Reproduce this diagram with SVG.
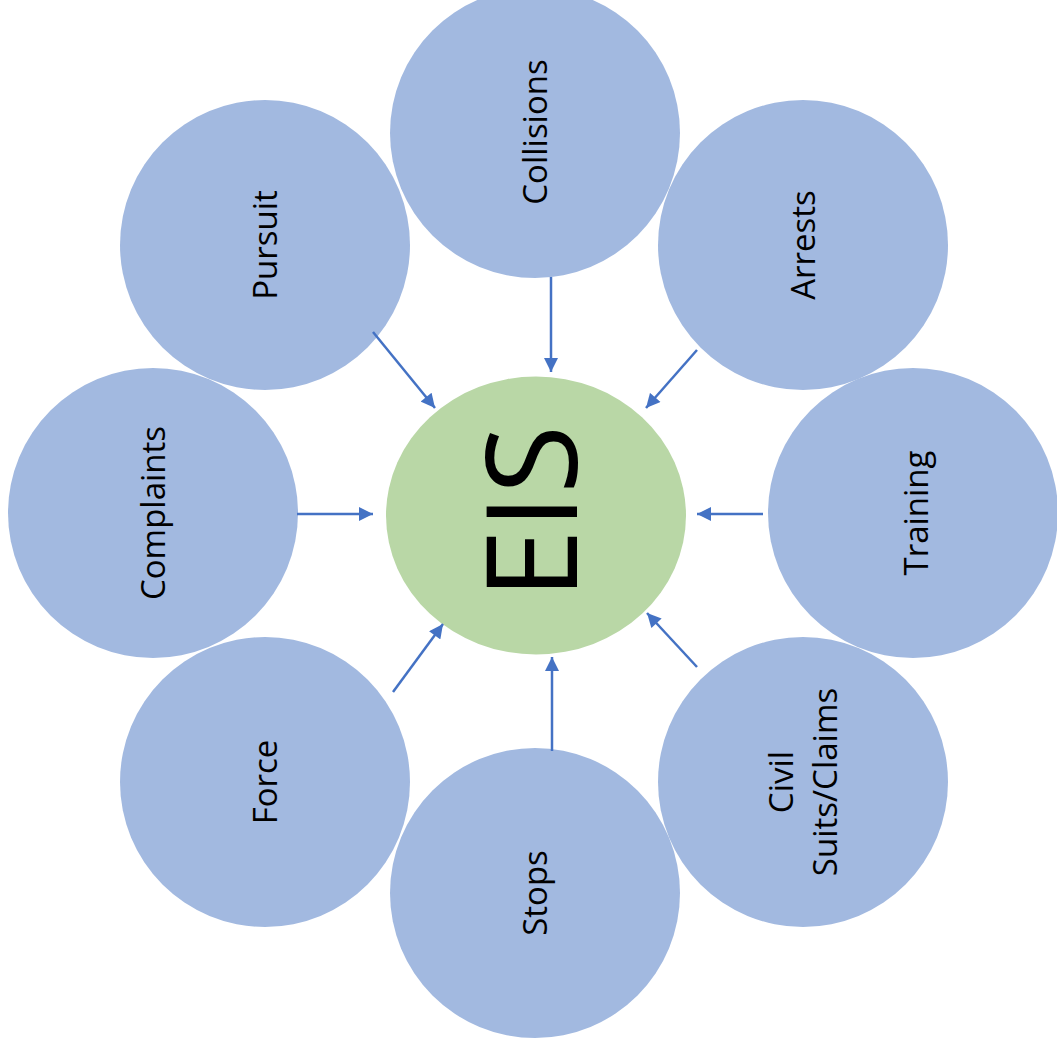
<svg xmlns="http://www.w3.org/2000/svg" width="1057" height="1056" viewBox="0 0 1057 1056">
  <style>
    .node { fill: #A2B9E0; }
    .hub { fill: #B9D7A6; }
    .label { font-family: "Open Sans", "Liberation Sans", sans-serif; font-size: 33px; fill: #000; text-anchor: middle; }
    .big { font-family: "Open Sans", "DejaVu Sans", sans-serif; font-size: 126px; fill: #000; text-anchor: middle; }
    .conn { stroke: #4472C4; stroke-width: 2.5; fill: none; marker-end: url(#head); }
  </style>
  <defs>
    <marker id="head" viewBox="0 0 10 10" refX="10" refY="5" markerUnits="userSpaceOnUse" markerWidth="15" markerHeight="14" orient="auto">
      <path d="M0,0 L10,5 L0,10 Z" fill="#4472C4"/>
    </marker>
  </defs>

  <rect width="1057" height="1056" fill="#fff"/>

  <g id="collisions">
    <circle class="node" cx="535" cy="133" r="145"/>
    <text class="label" transform="translate(535,132) rotate(-90)" y="12">Collisions</text>
  </g>
  <g id="pursuit">
    <circle class="node" cx="265" cy="245" r="145"/>
    <text class="label" transform="translate(265,245) rotate(-90)" y="12">Pursuit</text>
  </g>
  <g id="arrests">
    <circle class="node" cx="803" cy="245" r="145"/>
    <text class="label" transform="translate(803,245) rotate(-90)" y="12">Arrests</text>
  </g>
  <g id="complaints">
    <circle class="node" cx="153" cy="513" r="145"/>
    <text class="label" transform="translate(153,513) rotate(-90)" y="12">Complaints</text>
  </g>
  <g id="training">
    <circle class="node" cx="913" cy="513" r="145"/>
    <text class="label" transform="translate(916,513) rotate(-90)" y="12">Training</text>
  </g>
  <g id="force">
    <circle class="node" cx="265" cy="782" r="145"/>
    <text class="label" transform="translate(265,782) rotate(-90)" y="12">Force</text>
  </g>
  <g id="civil">
    <circle class="node" cx="803" cy="782" r="145"/>
    <text class="label" transform="translate(803,782) rotate(-90)" y="-10">Civil</text>
    <text class="label" transform="translate(803,782) rotate(-90)" y="34">Suits/Claims</text>
  </g>
  <g id="stops">
    <circle class="node" cx="535" cy="893" r="145"/>
    <text class="label" transform="translate(535,893) rotate(-90)" y="12">Stops</text>
  </g>
  <g id="eis">
    <ellipse class="hub" cx="536" cy="515.5" rx="150" ry="139"/>
    <text class="big" transform="translate(532,512) rotate(-90)" y="45">EIS</text>
  </g>

  <g id="connectors">
    <line class="conn" x1="551" y1="277" x2="551" y2="372"/>
    <line class="conn" x1="373" y1="332" x2="435" y2="408"/>
    <line class="conn" x1="697" y1="350" x2="646" y2="408"/>
    <line class="conn" x1="297" y1="514" x2="373" y2="514"/>
    <line class="conn" x1="763" y1="514" x2="697" y2="514"/>
    <line class="conn" x1="393" y1="692" x2="443" y2="624"/>
    <line class="conn" x1="552" y1="751" x2="552" y2="657"/>
    <line class="conn" x1="697" y1="667" x2="647" y2="613"/>
  </g>
</svg>
